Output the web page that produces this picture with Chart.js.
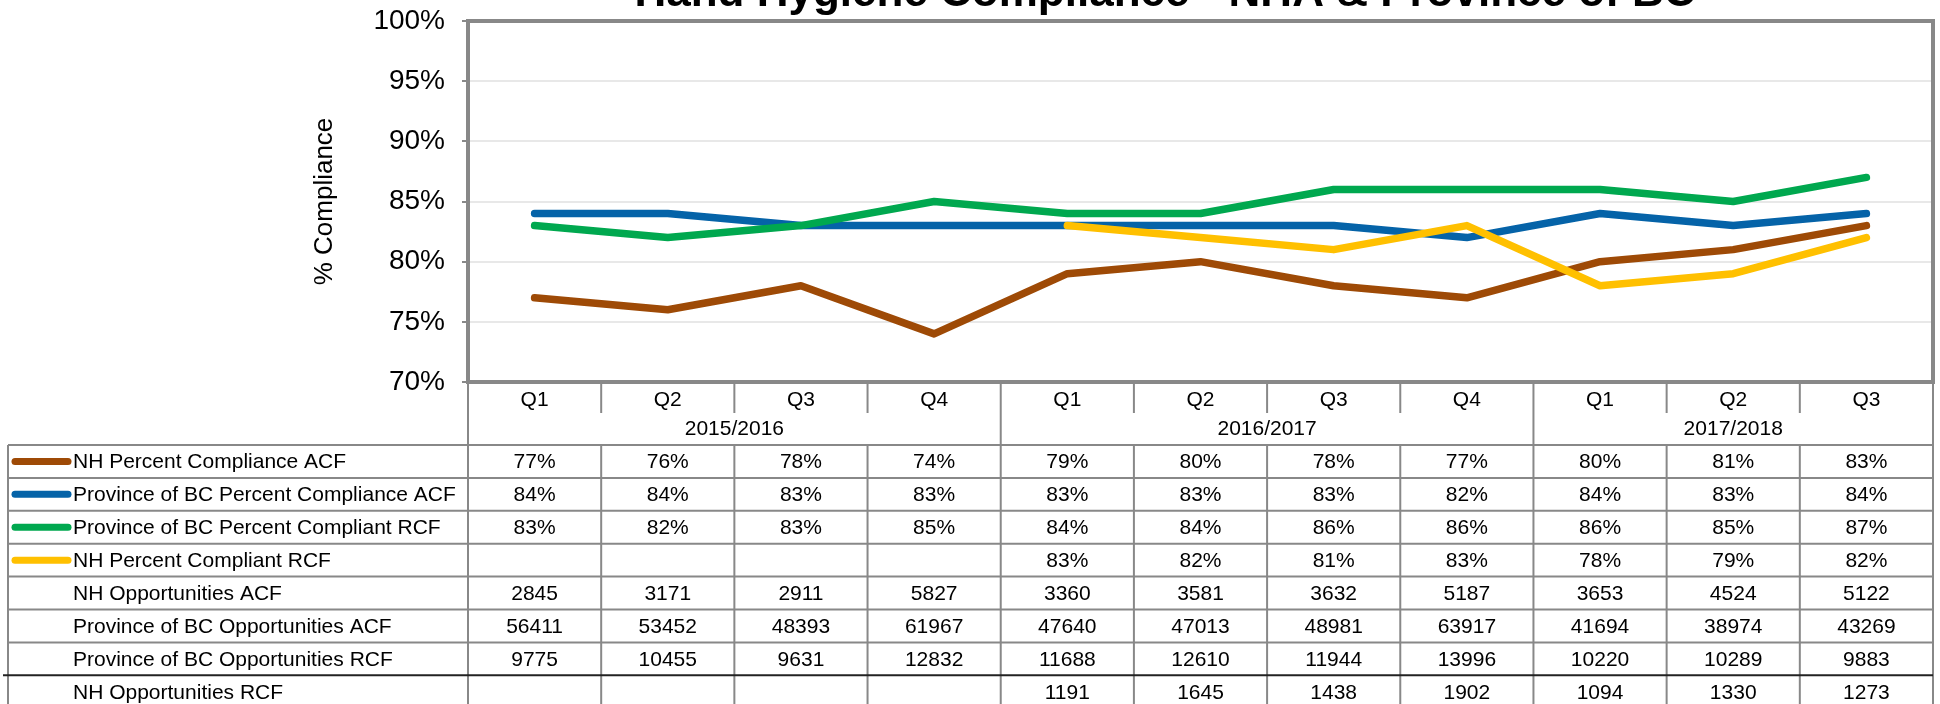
<!DOCTYPE html>
<html>
<head>
<meta charset="utf-8">
<title>Hand Hygiene Compliance</title>
<script src="https://cdn.jsdelivr.net/npm/chart.js@4.4.1/dist/chart.umd.min.js"></script>
<style>
  html, body { margin: 0; padding: 0; background: #fff; }
  #wrap { width: 1940px; height: 704px; }
</style>
</head>
<body>
<div id="wrap"><canvas id="myChart" width="1940" height="704"></canvas></div>
<script>
const chartTitle = 'Hand Hygiene Compliance - NHA & Province of BC';
const quarters = ['Q1', 'Q2', 'Q3', 'Q4', 'Q1', 'Q2', 'Q3', 'Q4', 'Q1', 'Q2', 'Q3'];
const years = ['2015/2016', '2016/2017', '2017/2018'];
const yearSpans = [4, 4, 3];
const yTicks = [70, 75, 80, 85, 90, 95, 100];

// percent series (plotted)
const nhAcf = [77, 76, 78, 74, 79, 80, 78, 77, 80, 81, 83];
const bcAcf = [84, 84, 83, 83, 83, 83, 83, 82, 84, 83, 84];
const bcRcf = [83, 82, 83, 85, 84, 84, 86, 86, 86, 85, 87];
const nhRcf = [null, null, null, null, 83, 82, 81, 83, 78, 79, 82];

// opportunities (table only)
const nhOppAcf = [2845, 3171, 2911, 5827, 3360, 3581, 3632, 5187, 3653, 4524, 5122];
const bcOppAcf = [56411, 53452, 48393, 61967, 47640, 47013, 48981, 63917, 41694, 38974, 43269];
const bcOppRcf = [9775, 10455, 9631, 12832, 11688, 12610, 11944, 13996, 10220, 10289, 9883];
const nhOppRcf = [null, null, null, null, 1191, 1645, 1438, 1902, 1094, 1330, 1273];

const FONT = '"Liberation Sans", Arial, sans-serif';
const GRAY = '#888888';

const seriesRows = [
    { label: 'NH Percent Compliance ACF', data: nhAcf, color: '#9E4A06' },
    { label: 'Province of BC Percent Compliance ACF', data: bcAcf, color: '#0563A8' },
    { label: 'Province of BC Percent Compliant RCF', data: bcRcf, color: '#00A84F' },
    { label: 'NH Percent Compliant RCF', data: nhRcf, color: '#FFC000' },
];
const countRows = [
    { label: 'NH Opportunities ACF', data: nhOppAcf },
    { label: 'Province of BC Opportunities ACF', data: bcOppAcf },
    { label: 'Province of BC Opportunities RCF', data: bcOppRcf },
    { label: 'NH Opportunities RCF', data: nhOppRcf },
];

function line(ctx, x1, y1, x2, y2) {
    ctx.beginPath();
    ctx.moveTo(x1, y1);
    ctx.lineTo(x2, y2);
    ctx.stroke();
}

const tablePlugin = {
    id: 'tablePlugin',
    afterDraw(chart) {
        const ctx = chart.ctx;
        const area = chart.chartArea;
        const xs = chart.scales.x;
        const colW = (area.right - area.left) / quarters.length;
        const tableLeft = 8;
        const qTop = area.bottom;
        const yearTop = qTop + 31;
        const dataTop = qTop + 63;
        const rowH = 32.9;
        const rows = [...seriesRows, ...countRows];
        const tableBottom = dataTop + rows.length * rowH;

        ctx.save();

        // title, cut off by the top edge like the original
        ctx.fillStyle = '#000';
        ctx.font = `bold 44px ${FONT}`;
        ctx.textAlign = 'center';
        ctx.textBaseline = 'alphabetic';
        ctx.fillText(chartTitle, 1165, 6);

        // plot frame
        ctx.strokeStyle = GRAY;
        ctx.lineWidth = 4;
        ctx.strokeRect(area.left, area.top, area.right - area.left, area.bottom - area.top);

        // table grid
        ctx.lineWidth = 2;
        ctx.strokeStyle = GRAY;
        for (let i = 1; i < quarters.length; i++) {
            const bx = area.left + i * colW;
            line(ctx, bx, qTop, bx, yearTop);
            line(ctx, bx, dataTop, bx, tableBottom);
        }
        let acc = 0;
        yearSpans.forEach((n) => {
            acc += n;
            if (acc < quarters.length) {
                const bx = area.left + acc * colW;
                line(ctx, bx, yearTop, bx, dataTop);
            }
        });
        line(ctx, area.left, qTop, area.left, tableBottom);
        line(ctx, area.right, qTop, area.right, tableBottom);
        line(ctx, tableLeft, dataTop, tableLeft, tableBottom);
        for (let r = 0; r <= rows.length; r++) {
            const y = dataTop + r * rowH;
            if (r === rows.length - 1) continue;
            line(ctx, tableLeft, y, area.right, y);
        }
        ctx.strokeStyle = '#222';
        const darkY = dataTop + (rows.length - 1) * rowH;
        line(ctx, 3, darkY, area.right, darkY);

        // quarter and year headers
        ctx.fillStyle = '#000';
        ctx.font = `21px ${FONT}`;
        ctx.textAlign = 'center';
        ctx.textBaseline = 'middle';
        quarters.forEach((q, i) => {
            ctx.fillText(q, xs.getPixelForValue(i), qTop + 18);
        });
        let start = 0;
        years.forEach((yr, k) => {
            const mid = area.left + (start + yearSpans[k] / 2) * colW;
            ctx.fillText(yr, mid, yearTop + 16);
            start += yearSpans[k];
        });

        // data rows
        rows.forEach((row, r) => {
            const cy = dataTop + r * rowH + rowH / 2 + 1;
            if (row.color) {
                ctx.strokeStyle = row.color;
                ctx.lineWidth = 7;
                ctx.lineCap = 'round';
                line(ctx, 15, cy - 1, 68, cy - 1);
            }
            ctx.textAlign = 'left';
            ctx.fillText(row.label, 73, cy);
            ctx.textAlign = 'center';
            row.data.forEach((v, i) => {
                if (v === null) return;
                const txt = row.color ? `${v}%` : String(v);
                ctx.fillText(txt, xs.getPixelForValue(i), cy);
            });
        });

        ctx.restore();
    },
};

const datasets = seriesRows.map((s, i) => ({
    label: s.label,
    data: s.data,
    borderColor: s.color,
    backgroundColor: s.color,
    borderWidth: 7.5,
    pointRadius: 0,
    tension: 0,
    fill: false,
    spanGaps: false,
    borderJoinStyle: 'round',
    borderCapStyle: 'round',
    order: seriesRows.length - i,
}));

new Chart(document.getElementById('myChart'), {
    type: 'line',
    data: { labels: quarters, datasets },
    options: {
        responsive: false,
        animation: false,
        devicePixelRatio: 1,
        layout: { padding: { top: 21, right: 7, bottom: 322, left: 0 } },
        plugins: {
            legend: { display: false },
            tooltip: { enabled: false },
        },
        scales: {
            x: {
                type: 'category',
                display: false,
                offset: true,
            },
            y: {
                min: yTicks[0],
                max: yTicks[yTicks.length - 1],
                afterBuildTicks: (scale) => { scale.ticks = yTicks.map((v) => ({ value: v })); },
                ticks: {
                    callback: (v) => `${v}%`,
                    color: '#000',
                    font: { family: FONT, size: 28 },
                    padding: 17,
                },
                grid: {
                    color: '#E8E8E8',
                    lineWidth: 2,
                    drawTicks: true,
                    tickLength: 6,
                    tickColor: GRAY,
                    tickWidth: 2,
                },
                border: { display: false },
                title: {
                    display: true,
                    text: '% Compliance',
                    color: '#000',
                    font: { family: FONT, size: 26 },
                    padding: { top: 309, bottom: 0 },
                },
                afterFit: (scale) => {
                    scale.width = 468;
                    scale.paddingTop = 0;
                    scale.paddingBottom = 0;
                },
            },
        },
    },
    plugins: [tablePlugin],
});
</script>
</body>
</html>
